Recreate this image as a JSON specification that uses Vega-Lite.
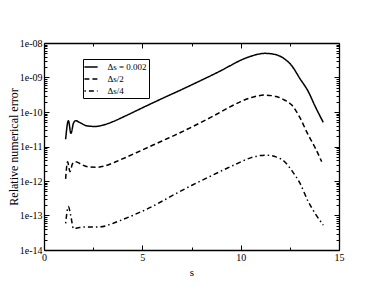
{
  "$schema": "https://vega.github.io/schema/vega-lite/v6.json",
  "width": 295,
  "height": 207,
  "autosize": {"type": "none"},
  "padding": {"left": 44, "top": 43, "right": 43, "bottom": 45},
  "config": {
    "font": "Liberation Serif",
    "view": {"stroke": null},
    "axis": {
      "grid": false,
      "domainColor": "black",
      "domainWidth": 1.3,
      "tickColor": "black",
      "tickWidth": 1,
      "labelColor": "black",
      "labelFont": "Liberation Serif",
      "labelFontSize": 10,
      "titleFont": "Liberation Serif",
      "titleColor": "black",
      "titleFontWeight": "normal",
      "labelOverlap": false,
      "labelFlush": false
    }
  },
  "data": {
    "values": [
      {"series": "Δs = 0.002", "s": 1.10, "err": 1.62e-11},
      {"series": "Δs = 0.002", "s": 1.24, "err": 5.62e-11},
      {"series": "Δs = 0.002", "s": 1.37, "err": 2.40e-11},
      {"series": "Δs = 0.002", "s": 1.50, "err": 4.79e-11},
      {"series": "Δs = 0.002", "s": 1.61, "err": 5.62e-11},
      {"series": "Δs = 0.002", "s": 1.80, "err": 5.01e-11},
      {"series": "Δs = 0.002", "s": 2.17, "err": 3.98e-11},
      {"series": "Δs = 0.002", "s": 2.6, "err": 3.80e-11},
      {"series": "Δs = 0.002", "s": 3.0, "err": 4.17e-11},
      {"series": "Δs = 0.002", "s": 3.5, "err": 5.25e-11},
      {"series": "Δs = 0.002", "s": 4.12, "err": 7.59e-11},
      {"series": "Δs = 0.002", "s": 5, "err": 1.32e-10},
      {"series": "Δs = 0.002", "s": 6, "err": 2.45e-10},
      {"series": "Δs = 0.002", "s": 7, "err": 4.47e-10},
      {"series": "Δs = 0.002", "s": 8, "err": 8.32e-10},
      {"series": "Δs = 0.002", "s": 9, "err": 1.585e-9},
      {"series": "Δs = 0.002", "s": 9.46, "err": 2.19e-9},
      {"series": "Δs = 0.002", "s": 10, "err": 3.16e-9},
      {"series": "Δs = 0.002", "s": 10.6, "err": 4.27e-9},
      {"series": "Δs = 0.002", "s": 11.24, "err": 5.01e-9},
      {"series": "Δs = 0.002", "s": 11.8, "err": 4.57e-9},
      {"series": "Δs = 0.002", "s": 12.25, "err": 3.39e-9},
      {"series": "Δs = 0.002", "s": 12.6, "err": 2.19e-9},
      {"series": "Δs = 0.002", "s": 13.0, "err": 9.55e-10},
      {"series": "Δs = 0.002", "s": 13.44, "err": 3.89e-10},
      {"series": "Δs = 0.002", "s": 13.8, "err": 1.41e-10},
      {"series": "Δs = 0.002", "s": 14.2, "err": 5.01e-11},

      {"series": "Δs/2", "s": 1.10, "err": 1.15e-12},
      {"series": "Δs/2", "s": 1.20, "err": 3.63e-12},
      {"series": "Δs/2", "s": 1.32, "err": 1.86e-12},
      {"series": "Δs/2", "s": 1.45, "err": 3.16e-12},
      {"series": "Δs/2", "s": 1.61, "err": 3.63e-12},
      {"series": "Δs/2", "s": 1.9, "err": 3.02e-12},
      {"series": "Δs/2", "s": 2.25, "err": 2.57e-12},
      {"series": "Δs/2", "s": 2.7, "err": 2.51e-12},
      {"series": "Δs/2", "s": 3.1, "err": 2.75e-12},
      {"series": "Δs/2", "s": 3.86, "err": 4.07e-12},
      {"series": "Δs/2", "s": 5, "err": 7.94e-12},
      {"series": "Δs/2", "s": 6, "err": 1.445e-11},
      {"series": "Δs/2", "s": 6.66, "err": 2.14e-11},
      {"series": "Δs/2", "s": 7.5, "err": 3.63e-11},
      {"series": "Δs/2", "s": 8.5, "err": 7.08e-11},
      {"series": "Δs/2", "s": 9.46, "err": 1.41e-10},
      {"series": "Δs/2", "s": 10, "err": 2.0e-10},
      {"series": "Δs/2", "s": 10.6, "err": 2.69e-10},
      {"series": "Δs/2", "s": 11.24, "err": 3.09e-10},
      {"series": "Δs/2", "s": 11.8, "err": 2.82e-10},
      {"series": "Δs/2", "s": 12.25, "err": 2.19e-10},
      {"series": "Δs/2", "s": 12.6, "err": 1.585e-10},
      {"series": "Δs/2", "s": 13.0, "err": 7.08e-11},
      {"series": "Δs/2", "s": 13.44, "err": 2.14e-11},
      {"series": "Δs/2", "s": 13.8, "err": 8.91e-12},
      {"series": "Δs/2", "s": 14.12, "err": 3.63e-12},

      {"series": "Δs/4", "s": 1.10, "err": 5.89e-14},
      {"series": "Δs/4", "s": 1.24, "err": 1.82e-13},
      {"series": "Δs/4", "s": 1.36, "err": 1.0e-13},
      {"series": "Δs/4", "s": 1.5, "err": 4.17e-14},
      {"series": "Δs/4", "s": 1.8, "err": 4.47e-14},
      {"series": "Δs/4", "s": 2.25, "err": 4.68e-14},
      {"series": "Δs/4", "s": 2.85, "err": 4.68e-14},
      {"series": "Δs/4", "s": 3.4, "err": 5.62e-14},
      {"series": "Δs/4", "s": 3.86, "err": 7.08e-14},
      {"series": "Δs/4", "s": 4.5, "err": 1.0e-13},
      {"series": "Δs/4", "s": 5.5, "err": 1.82e-13},
      {"series": "Δs/4", "s": 6.66, "err": 4.17e-13},
      {"series": "Δs/4", "s": 7.5, "err": 7.41e-13},
      {"series": "Δs/4", "s": 8.5, "err": 1.41e-12},
      {"series": "Δs/4", "s": 9.2, "err": 2.19e-12},
      {"series": "Δs/4", "s": 9.8, "err": 3.16e-12},
      {"series": "Δs/4", "s": 10.5, "err": 4.68e-12},
      {"series": "Δs/4", "s": 11.24, "err": 5.62e-12},
      {"series": "Δs/4", "s": 11.8, "err": 5.01e-12},
      {"series": "Δs/4", "s": 12.25, "err": 3.55e-12},
      {"series": "Δs/4", "s": 12.6, "err": 2.0e-12},
      {"series": "Δs/4", "s": 13.0, "err": 8.91e-13},
      {"series": "Δs/4", "s": 13.44, "err": 2.51e-13},
      {"series": "Δs/4", "s": 13.8, "err": 1.12e-13},
      {"series": "Δs/4", "s": 14.2, "err": 5.25e-14}
    ]
  },
  "layer": [
    {
      "mark": {"type": "line", "strokeWidth": 1.5, "color": "black", "interpolate": "monotone"},
      "encoding": {
        "x": {
          "field": "s", "type": "quantitative",
          "scale": {"domain": [0, 15], "nice": false},
          "axis": {
            "orient": "bottom",
            "title": "s",
            "titleFontSize": 11,
            "titlePadding": 2,
            "values": [0, 2.5, 5, 7.5, 10, 12.5, 15],
            "labelExpr": "datum.value % 5 === 0 ? datum.label : ''",
            "tickSize": {"condition": {"test": "datum.value % 5 === 0", "value": -5}, "value": -3},
            "labelPadding": 7
          }
        },
        "y": {
          "field": "err", "type": "quantitative",
          "scale": {"type": "log", "domain": [1e-14, 1e-8], "nice": false},
          "axis": {
            "orient": "left",
            "title": "Relative numerical error",
            "titleFontSize": 12,
            "titleX": -24,
            "values": [1e-14,2e-14,3e-14,4e-14,5e-14,6e-14,7e-14,8e-14,9e-14,1e-13,2e-13,3e-13,4e-13,5e-13,6e-13,7e-13,8e-13,9e-13,1e-12,2e-12,3e-12,4e-12,5e-12,6e-12,7e-12,8e-12,9e-12,1e-11,2e-11,3e-11,4e-11,5e-11,6e-11,7e-11,8e-11,9e-11,1e-10,2e-10,3e-10,4e-10,5e-10,6e-10,7e-10,8e-10,9e-10,1e-9,2e-9,3e-9,4e-9,5e-9,6e-9,7e-9,8e-9,9e-9,1e-8],
            "labelExpr": "abs(log(datum.value)/LN10 - round(log(datum.value)/LN10)) < 0.001 ? '1e-' + (-round(log(datum.value)/LN10) < 10 ? '0' : '') + (-round(log(datum.value)/LN10)) : ''",
            "tickSize": {"condition": {"test": "abs(log(datum.value)/LN10 - round(log(datum.value)/LN10)) < 0.001", "value": -5}, "value": -3},
            "labelPadding": 7
          }
        },
        "strokeDash": {
          "field": "series", "type": "nominal",
          "scale": {"domain": ["Δs = 0.002", "Δs/2", "Δs/4"], "range": [[1, 0], [5, 3], [1.5, 3, 5, 3]]},
          "legend": {
            "orient": "none",
            "legendX": 39,
            "legendY": 16,
            "title": null,
            "strokeColor": "black",
            "fillColor": "white",
            "padding": 1.5,
            "rowPadding": -3.5,
            "symbolType": "M-1.2,0H1.2",
            "symbolStrokeWidth": 1.5,
            "symbolStrokeColor": "black",
            "symbolSize": 121,
            "labelOffset": 10,
            "labelFont": "Liberation Serif",
            "labelFontSize": 9,
            "labelColor": "black"
          }
        }
      }
    },
    {
      "mark": {"type": "point", "opacity": 0},
      "encoding": {
        "x": {
          "field": "s", "type": "quantitative",
          "axis": {
            "orient": "top", "title": null, "labels": false,
            "values": [0, 2.5, 5, 7.5, 10, 12.5, 15],
            "tickSize": {"condition": {"test": "datum.value % 5 === 0", "value": -5}, "value": -3}
          }
        },
        "y": {
          "field": "err", "type": "quantitative",
          "axis": {
            "orient": "right", "title": null, "labels": false,
            "values": [1e-14,2e-14,3e-14,4e-14,5e-14,6e-14,7e-14,8e-14,9e-14,1e-13,2e-13,3e-13,4e-13,5e-13,6e-13,7e-13,8e-13,9e-13,1e-12,2e-12,3e-12,4e-12,5e-12,6e-12,7e-12,8e-12,9e-12,1e-11,2e-11,3e-11,4e-11,5e-11,6e-11,7e-11,8e-11,9e-11,1e-10,2e-10,3e-10,4e-10,5e-10,6e-10,7e-10,8e-10,9e-10,1e-9,2e-9,3e-9,4e-9,5e-9,6e-9,7e-9,8e-9,9e-9,1e-8],
            "tickSize": {"condition": {"test": "abs(log(datum.value)/LN10 - round(log(datum.value)/LN10)) < 0.001", "value": -5}, "value": -3}
          }
        }
      }
    }
  ],
  "resolve": {"axis": {"x": "independent", "y": "independent"}}
}
